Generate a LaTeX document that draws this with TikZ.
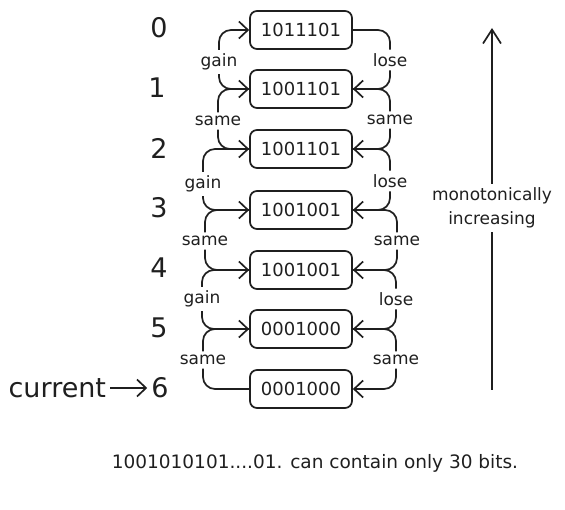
\documentclass[tikz,border=0pt]{standalone}
\usepackage{fontspec}
\setmainfont{DejaVu Sans}
\usetikzlibrary{arrows.meta,positioning,calc}

\begin{document}
\begin{tikzpicture}
    [x=1pt,y=-1pt,line width=1.7pt,rounded corners=12pt,color={black!88},
     >={Straight Barb[length=9pt,width=17pt,line width=1.7pt]},
     bits/.style={draw,rounded corners=7pt,minimum width=102pt,minimum height=38pt,inner sep=0pt,font=\fontsize{18}{18}\selectfont},
     num/.style={font=\fontsize{27}{27}\selectfont},
     tag/.style={inner sep=3pt,font=\fontsize{17}{17}\selectfont}]

    \useasboundingbox (0,0) rectangle (565,510);

    \node[bits] (b0) at (301,30) {1011101};
    \node[bits] (b1) at (301,89) {1001101};
    \node[bits] (b2) at (301,149) {1001101};
    \node[bits] (b3) at (301,210) {1001001};
    \node[bits] (b4) at (301,270) {1001001};
    \node[bits] (b5) at (301,329) {0001000};
    \node[bits] (b6) at (301,389) {0001000};

    \node[num] (n0) at (159,28) {0};
    \node[num] (n1) at (157,88) {1};
    \node[num] (n2) at (159,148) {2};
    \node[num] (n3) at (159,208) {3};
    \node[num] (n4) at (159,268) {4};
    \node[num] (n5) at (159,328) {5};
    \node[num] (n6) at (160,388) {6};
    \node[num,left=37pt of n6] (cur) {current};
    \draw[->] (cur) -- (n6);

    \node[tag] (g01) at (219,62) {gain};
    \node[tag] (s12) at (218,121) {same};
    \node[tag] (g23) at (203,184) {gain};
    \node[tag] (s34) at (205,241) {same};
    \node[tag] (g45) at (202,299) {gain};
    \node[tag] (s56) at (203,360) {same};

    \node[tag] (l01) at (390,60) {lose};
    \node[tag] (r12) at (390,120) {same};
    \node[tag] (l23) at (390,181) {lose};
    \node[tag] (r34) at (397,241) {same};
    \node[tag] (l45) at (396,299) {lose};
    \node[tag] (r56) at (396,360) {same};

    \draw[->] (b1.west) -| (g01.south) (g01.north) |- (b0.west);
    \draw[->] (b2.west) -| (s12.south) (s12.north) |- (b1.west);
    \draw[->] (b3.west) -| (g23.south) (g23.north) |- (b2.west);
    \draw[->] (b4.west) -| (s34.south) (s34.north) |- (b3.west);
    \draw[->] (b5.west) -| (g45.south) (g45.north) |- (b4.west);
    \draw[->] (b6.west) -| (s56.south) (s56.north) |- (b5.west);

    \draw[->] (b0.east) -| (l01.north) (l01.south) |- (b1.east);
    \draw[->] (b1.east) -| (r12.north) (r12.south) |- (b2.east);
    \draw[->] (b2.east) -| (l23.north) (l23.south) |- (b3.east);
    \draw[->] (b3.east) -| (r34.north) (r34.south) |- (b4.east);
    \draw[->] (b4.east) -| (l45.north) (l45.south) |- (b5.east);
    \draw[->] (b5.east) -| (r56.north) (r56.south) |- (b6.east);

    \coordinate (top) at (492,28);
    \coordinate (bot) at (492,390);
    \node[tag,align=center,font=\fontsize{17}{24}\selectfont] (mono) at (492,208) {monotonically\\increasing};
    \draw[->,>={Straight Barb[length=14pt,width=18pt,line width=1.7pt]}] (bot) -- (mono.south) (mono.north) -- (top);

    \node[font=\fontsize{18.5}{18.5}\selectfont] (note) at (315,463) {1001010101....01. can contain only 30 bits.};

\end{tikzpicture}
\end{document}
